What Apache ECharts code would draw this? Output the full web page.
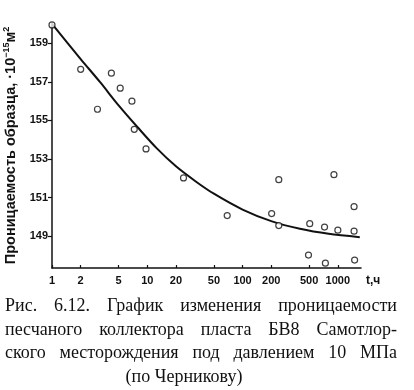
<!DOCTYPE html>
<html>
<head>
<meta charset="utf-8">
<script src="https://cdn.jsdelivr.net/npm/echarts@6/dist/echarts.min.js"></script>
<style>
html,body{margin:0;padding:0;background:#fff;}
#chart{width:414px;height:390px;}
</style>
</head>
<body>
<div id="chart"></div>
<script>
// Measured points: time t (h) and permeability (10^-15 m^2)
const pointT = [1, 2.0, 3.0, 4.2, 5.2, 6.9, 7.3, 9.7, 24, 69, 202, 240, 240, 507, 492, 725, 740, 910, 1000, 1480, 1480, 1500];
const pointK = [159.95, 157.65, 155.58, 157.45, 156.67, 156.0, 154.54, 153.52, 152.02, 150.07, 150.17, 151.93, 149.55, 149.65, 148.02, 149.47, 147.6, 152.19, 149.31, 150.53, 149.26, 147.76];
// Fitted curve
const curveT = [1, 2, 3.2, 5, 8, 12.6, 20, 32, 50, 100, 200, 400, 800, 1700];
const curveK = [160.0, 158.18, 156.98, 155.78, 154.62, 153.55, 152.62, 151.85, 151.2, 150.38, 149.78, 149.38, 149.12, 148.95];
// Tick labels
const xTicks = [1, 2, 5, 10, 20, 50, 100, 200, 500, 1000];
const yTicks = [149, 151, 153, 155, 157, 159];
const captionLines = [
  'Рис. 6.12. График изменения проницаемости',
  'песчаного коллектора пласта БВ8 Самотлор-',
  'ского месторождения под давлением 10 МПа',
  '(по Черникову)'
];

const lg = v => Math.log10(v);
const chart = echarts.init(document.getElementById('chart'), null, {renderer: 'canvas'});

const labelFont = "'Liberation Sans Narrow','Liberation Sans',Arial,sans-serif";
const capFont = "18px 'Liberation Serif','Times New Roman',serif";

// caption layout (justified lines)
const cv = document.createElement('canvas').getContext('2d');
cv.font = capFont;
const capGraphics = [];
const capY = [306, 330, 353, 377];
captionLines.forEach((line, i) => {
  if (i < 3) {
    const words = line.split(' ');
    const widths = words.map(w => cv.measureText(w).width);
    const total = widths.reduce((a, b) => a + b, 0);
    const left = 5, right = 397;
    const gap = (right - left - total) / (words.length - 1);
    let x = left;
    words.forEach((w, j) => {
      capGraphics.push({type: 'text', x: x, y: capY[i], style: {text: w, font: capFont, fill: '#111', verticalAlign: 'middle', align: 'left'}});
      x += widths[j] + gap;
    });
  } else {
    capGraphics.push({type: 'text', x: 184, y: capY[i], style: {text: line, font: capFont, fill: '#111', verticalAlign: 'middle', align: 'center'}});
  }
});

const option = {
  backgroundColor: '#fff',
  animation: false,
  grid: {left: 52, right: 53, top: 23, bottom: 122, containLabel: false, outerBoundsMode: 'none'},
  xAxis: {
    type: 'value',
    min: 0,
    max: lg(1750),
    axisLine: {show: true, lineStyle: {color: '#111', width: 1.5}},
    axisTick: {show: true, inside: true, length: 3, customValues: xTicks.map(lg), lineStyle: {color: '#111', width: 1.2}},
    axisLabel: {
      show: true, customValues: xTicks.map(lg), margin: 7,
      formatter: v => String(Math.round(Math.pow(10, v))),
      color: '#111', fontFamily: labelFont, fontSize: 11, fontWeight: 'bold'
    },
    splitLine: {show: false}
  },
  yAxis: {
    type: 'value',
    min: 147.35,
    max: 160.05,
    name: '{a|Проницаемость образца, ·10}{s|−15}{a|м}{s|2}',
    nameLocation: 'middle',
    nameRotate: 90,
    nameGap: 23,
    nameTextStyle: {
      rich: {
        a: {fontFamily: labelFont, fontSize: 14.5, fontWeight: 'bold', color: '#111', lineHeight: 18},
        s: {fontFamily: labelFont, fontSize: 9, fontWeight: 'bold', color: '#111', lineHeight: 9, verticalAlign: 'top'}
      }
    },
    axisLine: {show: true, lineStyle: {color: '#111', width: 1.5}},
    axisTick: {show: true, inside: false, length: 4, customValues: yTicks, lineStyle: {color: '#111', width: 1.2}},
    axisLabel: {show: true, customValues: yTicks, margin: 4, color: '#111', fontFamily: labelFont, fontSize: 11, fontWeight: 'bold'},
    splitLine: {show: false}
  },
  graphic: [
    {type: 'text', x: 366, y: 281, style: {text: 't,ч', font: "bold 12px " + labelFont, fill: '#111', verticalAlign: 'middle', align: 'left'}}
  ].concat(capGraphics),
  series: [
    {
      type: 'line',
      data: curveT.map((t, i) => [lg(t), curveK[i]]),
      smooth: 0.3,
      showSymbol: false,
      lineStyle: {color: '#111', width: 2},
      z: 2
    },
    {
      type: 'scatter',
      data: pointT.map((t, i) => [lg(t), pointK[i]]),
      symbol: 'circle',
      symbolSize: 6,
      clip: false,
      itemStyle: {color: '#fff', borderColor: '#111', borderWidth: 1.2},
      z: 3
    }
  ]
};
chart.setOption(option);
</script>
</body>
</html>
